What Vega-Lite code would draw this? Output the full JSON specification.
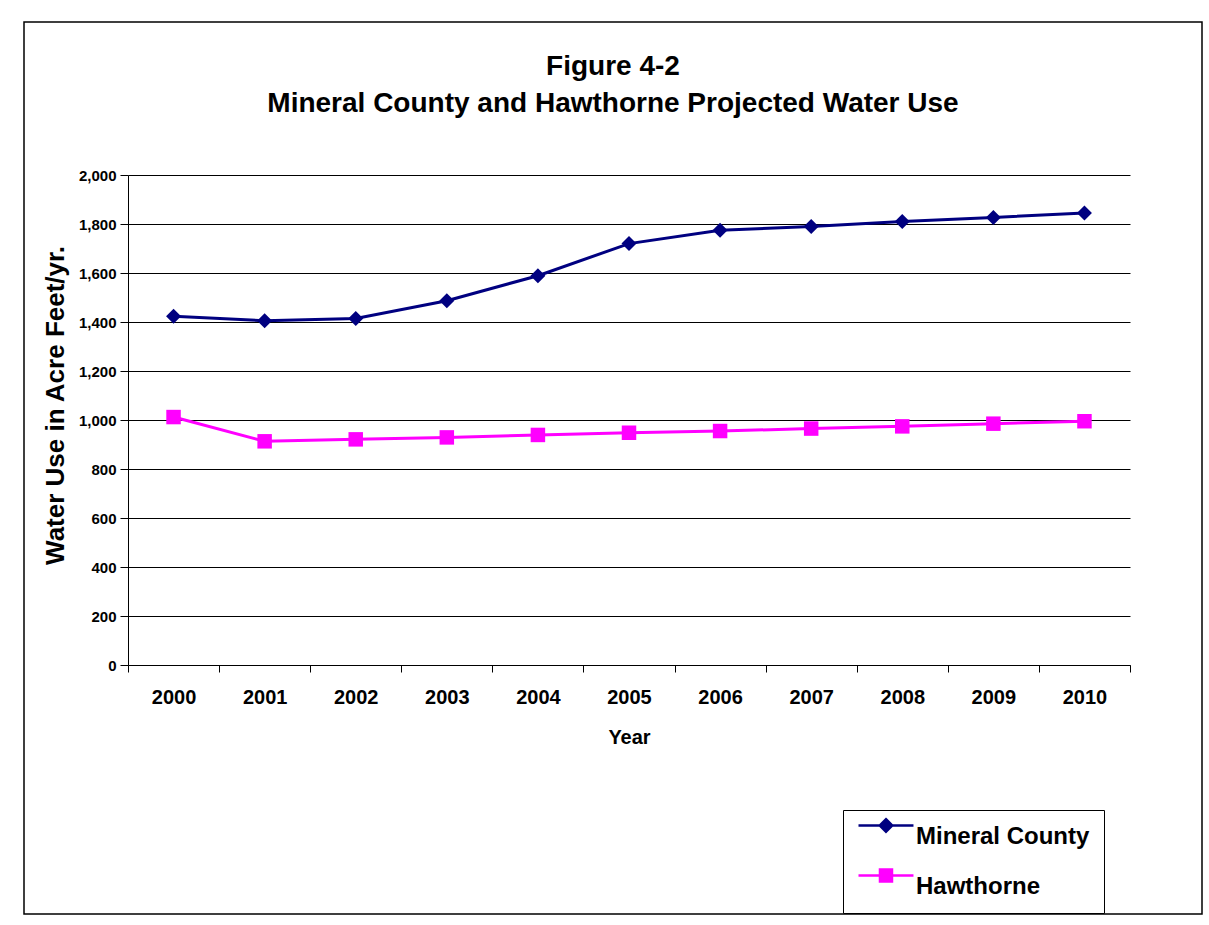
{
  "$schema": "https://vega.github.io/schema/vega-lite/v6.json",
  "width": 1178,
  "height": 892,
  "autosize": {"type": "none"},
  "padding": {"left": 24, "top": 22, "right": 7, "bottom": 11},
  "background": "white",
  "config": {
    "view": {"stroke": "#000000", "strokeWidth": 1.5},
    "font": "Liberation Sans"
  },
  "title": {
    "text": ["Figure 4-2", "Mineral County and Hawthorne Projected Water Use"],
    "fontSize": 28,
    "fontWeight": "bold",
    "font": "Liberation Sans",
    "color": "#000000",
    "anchor": "middle",
    "frame": "group",
    "baseline": "alphabetic",
    "lineHeight": 37,
    "offset": -118
  },
  "data": {
    "values": [
      {"year": "2000", "series": "Mineral County", "value": 1423},
      {"year": "2001", "series": "Mineral County", "value": 1405},
      {"year": "2002", "series": "Mineral County", "value": 1414},
      {"year": "2003", "series": "Mineral County", "value": 1487},
      {"year": "2004", "series": "Mineral County", "value": 1589},
      {"year": "2005", "series": "Mineral County", "value": 1720},
      {"year": "2006", "series": "Mineral County", "value": 1774},
      {"year": "2007", "series": "Mineral County", "value": 1790},
      {"year": "2008", "series": "Mineral County", "value": 1810},
      {"year": "2009", "series": "Mineral County", "value": 1827},
      {"year": "2010", "series": "Mineral County", "value": 1845},
      {"year": "2000", "series": "Hawthorne", "value": 1012},
      {"year": "2001", "series": "Hawthorne", "value": 913},
      {"year": "2002", "series": "Hawthorne", "value": 921},
      {"year": "2003", "series": "Hawthorne", "value": 929},
      {"year": "2004", "series": "Hawthorne", "value": 939},
      {"year": "2005", "series": "Hawthorne", "value": 948},
      {"year": "2006", "series": "Hawthorne", "value": 955},
      {"year": "2007", "series": "Hawthorne", "value": 965},
      {"year": "2008", "series": "Hawthorne", "value": 974},
      {"year": "2009", "series": "Hawthorne", "value": 985},
      {"year": "2010", "series": "Hawthorne", "value": 995}
    ]
  },
  "encoding": {
    "x": {
      "field": "year",
      "type": "ordinal",
      "scale": {"type": "band", "range": [104, 1106], "paddingInner": 0, "paddingOuter": 0},
      "axis": {
        "title": "Year",
        "titleFontSize": 20,
        "titleFontWeight": "bold",
        "titleColor": "#000000",
        "titlePadding": 20,
        "labelAngle": 0,
        "labelFontSize": 20,
        "labelFontWeight": "bold",
        "labelColor": "#000000",
        "labelPadding": 15,
        "tickSize": 7,
        "tickColor": "#000000",
        "tickBand": "extent",
        "domainColor": "#000000",
        "domainWidth": 1,
        "grid": false,
        "offset": -249
      }
    },
    "y": {
      "field": "value",
      "type": "quantitative",
      "scale": {"domain": [0, 2000], "range": [643, 153], "nice": false},
      "axis": {
        "title": "Water Use in Acre Feet/yr.",
        "titleFontSize": 26,
        "titleFontWeight": "bold",
        "titleColor": "#000000",
        "titleAngle": -90,
        "titleAlign": "center",
        "titleBaseline": "middle",
        "titleX": -73,
        "titleY": 383,
        "values": [0, 200, 400, 600, 800, 1000, 1200, 1400, 1600, 1800, 2000],
        "format": ",.0f",
        "labelFontSize": 15,
        "labelFontWeight": "bold",
        "labelColor": "#000000",
        "labelPadding": 4,
        "labelOverlap": false,
        "labelFlush": false,
        "tickSize": 8,
        "tickColor": "#000000",
        "domainColor": "#000000",
        "grid": true,
        "gridColor": "#000000",
        "gridWidth": 1,
        "offset": -104
      }
    },
    "color": {
      "field": "series",
      "type": "nominal",
      "scale": {"domain": ["Mineral County", "Hawthorne"], "range": ["#000080", "#FF00FF"]},
      "legend": {
        "title": null,
        "orient": "none",
        "legendX": 819,
        "legendY": 788,
        "strokeColor": "#000000",
        "fillColor": "#FFFFFF",
        "padding": 14,
        "symbolSize": 529,
        "labelFontSize": 24,
        "labelFontWeight": "bold",
        "labelColor": "#000000",
        "labelOffset": 33,
        "labelLimit": 400,
        "rowPadding": 15,
        "encode": {
          "symbols": {
            "update": {
              "shape": {"signal": "datum.value === 'Mineral County' ? 'M-1,-1H3.78M1.39,-1.543L1.933,-1L1.39,-0.457L0.847,-1Z' : 'M-1,-1H3.78M0.868,-1.522H1.912V-0.478H0.868Z'"},
              "fill": {"scale": "color", "field": "value"},
              "stroke": {"scale": "color", "field": "value"},
              "strokeWidth": {"value": 2.5},
              "opacity": {"value": 1}
            }
          }
        }
      }
    }
  },
  "layer": [
    {"mark": {"type": "line", "strokeWidth": 3}},
    {
      "transform": [{"filter": "datum.series === 'Mineral County'"}],
      "mark": {"type": "point", "filled": true, "opacity": 1, "size": 225, "shape": "diamond"}
    },
    {
      "transform": [{"filter": "datum.series === 'Hawthorne'"}],
      "mark": {"type": "point", "filled": true, "opacity": 1, "size": 210, "shape": "square"}
    }
  ]
}
